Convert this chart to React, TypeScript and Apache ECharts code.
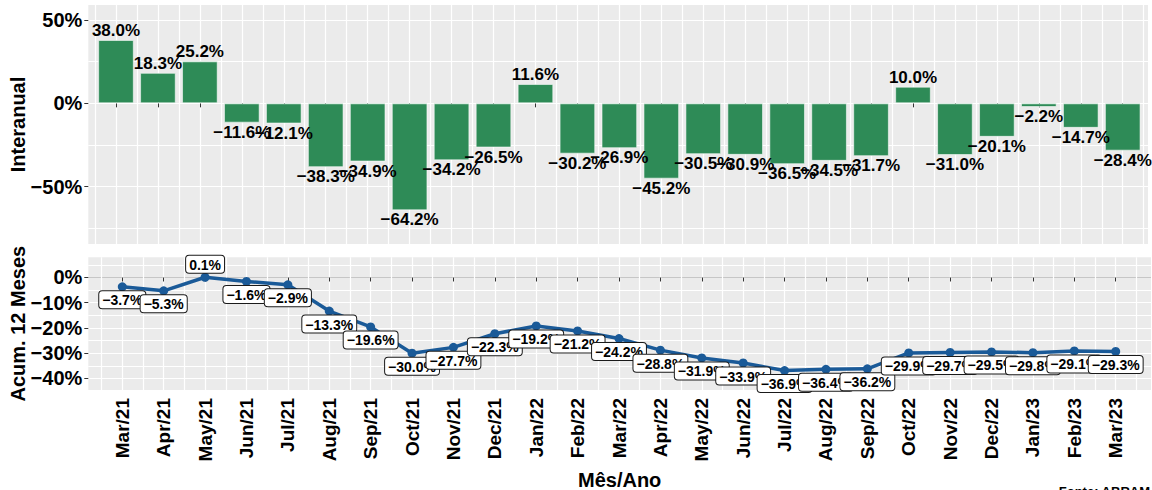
import React, { useEffect, useRef } from 'react';
import * as echarts from 'echarts';

const months = ['Mar/21', 'Apr/21', 'May/21', 'Jun/21', 'Jul/21', 'Aug/21', 'Sep/21', 'Oct/21', 'Nov/21', 'Dec/21', 'Jan/22', 'Feb/22', 'Mar/22', 'Apr/22', 'May/22', 'Jun/22', 'Jul/22', 'Aug/22', 'Sep/22', 'Oct/22', 'Nov/22', 'Dec/22', 'Jan/23', 'Feb/23', 'Mar/23'];
const interanual = [38.0, 18.3, 25.2, -11.6, -12.1, -38.3, -34.9, -64.2, -34.2, -26.5, 11.6, -30.2, -26.9, -45.2, -30.5, -30.9, -36.5, -34.5, -31.7, 10.0, -31.0, -20.1, -2.2, -14.7, -28.4];
const acumulado = [-3.7, -5.3, 0.1, -1.6, -2.9, -13.3, -19.6, -30.0, -27.7, -22.3, -19.2, -21.2, -24.2, -28.8, -31.9, -33.9, -36.9, -36.4, -36.2, -29.9, -29.7, -29.5, -29.8, -29.1, -29.3];
const topTickValues = [-50, 0, 50];
const bottomTickValues = [-40, -30, -20, -10, 0];

const FONT = '"Liberation Sans", Arial, Helvetica, sans-serif';
const PANEL = '#EBEBEB';
const BAR = '#2E8B57';
const LINE = '#1A5A98';

// panel geometry (pixels)
const W = 1152;
const topPanel = { x0: 88.3, x1: 1148, y0: 5, y1: 244, band0: 95, band1: 1143.7, vmin: -84.4, vmax: 59 };
const botPanel = { x0: 88.3, x1: 1151, y0: 257.3, y1: 390, band0: 101.6, band1: 1136.4, vmin: -44.6, vmax: 8 };

const yPix = (p: any, v: number) => p.y0 + ((p.vmax - v) / (p.vmax - p.vmin)) * (p.y1 - p.y0);

const pct = (v: number, d = 1) => (v < 0 ? '\u2212' : '') + Math.abs(v).toFixed(d) + '%';

export default function App() {
  const ref = useRef<HTMLDivElement>(null);
  useEffect(() => {
    if (!ref.current) return;
    const chart = echarts.init(ref.current, undefined, { renderer: 'svg' });
    const n = months.length;

    const gA = { left: topPanel.band0, right: W - topPanel.band1, top: topPanel.y0, height: topPanel.y1 - topPanel.y0 };
    const gA2 = { left: topPanel.x0, right: W - topPanel.x1, top: yPix(topPanel, 50), height: yPix(topPanel, -75) - yPix(topPanel, 50) };
    const gA3 = { left: topPanel.x0, right: W - topPanel.x1, top: yPix(topPanel, 50), height: yPix(topPanel, -50) - yPix(topPanel, 50) };
    const gB = { left: botPanel.band0, right: W - botPanel.band1, top: botPanel.y0, height: botPanel.y1 - botPanel.y0 };
    const gB2 = { left: botPanel.x0, right: W - botPanel.x1, top: yPix(botPanel, 5), height: yPix(botPanel, -40) - yPix(botPanel, 5) };
    const gB3 = { left: botPanel.x0, right: W - botPanel.x1, top: yPix(botPanel, 0), height: yPix(botPanel, -40) - yPix(botPanel, 0) };

    const hiddenX = (gridIndex: number) => ({ type: 'value', gridIndex, show: false, min: 0, max: 1 });
    const vLines = (gridIndex: number) => ({
      type: 'value', gridIndex, position: 'top', min: -0.5, max: n - 0.5, interval: 0.5,
      axisLine: { show: false }, axisTick: { show: false }, axisLabel: { show: false },
      splitLine: { show: true, lineStyle: { color: '#FFFFFF', width: 1.2 } },
    });
    const tickStyle = { show: true, length: 4, lineStyle: { color: '#333333', width: 1 } };
    const yLabelStyle = { fontSize: 20, fontWeight: 'bold', color: '#000', fontFamily: FONT, margin: 6, formatter: (v: number) => pct(v, 0) };

    const option: any = {
      animation: false,
      backgroundColor: '#FFFFFF',
      grid: [
        { ...gA }, { ...gA2 }, { ...gA3 },
        { ...gB }, { ...gB2 }, { ...gB3 },
      ],
      xAxis: [
        {
          type: 'category', gridIndex: 0, data: months,
          axisLine: { show: false }, axisLabel: { show: false },
          axisTick: { ...tickStyle, alignWithLabel: true, interval: 0 },
          splitLine: { show: false },
        },
        vLines(0),
        {
          type: 'category', gridIndex: 3, data: months,
          axisLine: { show: false },
          axisTick: { ...tickStyle, alignWithLabel: true, interval: 0 },
          axisLabel: { interval: 0, rotate: 90, margin: 8, fontSize: 19, fontWeight: 'bold', color: '#000', fontFamily: FONT },
          splitLine: { show: false },
        },
        vLines(3),
        hiddenX(1), hiddenX(2), hiddenX(4), hiddenX(5),
      ],
      yAxis: [
        { type: 'value', gridIndex: 0, min: topPanel.vmin, max: topPanel.vmax, show: false },
        { type: 'value', gridIndex: 3, min: botPanel.vmin, max: botPanel.vmax, show: false },
        {
          type: 'value', gridIndex: 1, min: -75, max: 50, interval: 25,
          axisLine: { show: false }, axisTick: { show: false }, axisLabel: { show: false },
          splitLine: { show: true, lineStyle: { color: '#FFFFFF', width: 1.2 } },
        },
        {
          type: 'value', gridIndex: 2, min: topTickValues[0], max: topTickValues[topTickValues.length - 1], interval: 50,
          axisLine: { show: false }, axisTick: tickStyle, axisLabel: yLabelStyle, splitLine: { show: false },
        },
        {
          type: 'value', gridIndex: 4, min: -40, max: 5, interval: 5,
          axisLine: { show: false }, axisTick: { show: false }, axisLabel: { show: false },
          splitLine: {
            show: true,
            lineStyle: { color: ['#FFFFFF', '#FFFFFF', '#FFFFFF', '#FFFFFF', '#FFFFFF', '#FFFFFF', '#FFFFFF', '#FFFFFF', '#C6C6C6', '#FFFFFF'], width: 1.2 },
          },
        },
        {
          type: 'value', gridIndex: 5, min: bottomTickValues[0], max: bottomTickValues[bottomTickValues.length - 1], interval: 10,
          axisLine: { show: false }, axisTick: tickStyle, axisLabel: yLabelStyle, splitLine: { show: false },
        },
      ],
      graphic: [
        { type: 'rect', z: -100, silent: true, shape: { x: topPanel.x0, y: topPanel.y0, width: topPanel.x1 - topPanel.x0, height: topPanel.y1 - topPanel.y0 }, style: { fill: PANEL } },
        { type: 'rect', z: -100, silent: true, shape: { x: botPanel.x0, y: botPanel.y0, width: botPanel.x1 - botPanel.x0, height: botPanel.y1 - botPanel.y0 }, style: { fill: PANEL } },
        { type: 'text', x: 17.5, y: (topPanel.y0 + topPanel.y1) / 2, rotation: Math.PI / 2, style: { text: 'Interanual', align: 'center', verticalAlign: 'middle', fontSize: 20, fontWeight: 'bold', fontFamily: FONT, fill: '#000' } },
        { type: 'text', x: 17.5, y: (botPanel.y0 + botPanel.y1) / 2, rotation: Math.PI / 2, style: { text: 'Acum. 12 Meses', align: 'center', verticalAlign: 'middle', fontSize: 20, fontWeight: 'bold', fontFamily: FONT, fill: '#000' } },
        { type: 'text', x: (botPanel.x0 + botPanel.x1) / 2, y: 480, style: { text: 'Mês/Ano', align: 'center', verticalAlign: 'middle', fontSize: 20, fontWeight: 'bold', fontFamily: FONT, fill: '#000' } },
        { type: 'text', x: 1150, y: 485, style: { text: 'Fonte: ABRAM', align: 'right', verticalAlign: 'top', fontSize: 13, fontWeight: 'bold', fontFamily: FONT, fill: '#000' } },
      ],
      series: [
        {
          type: 'bar', xAxisIndex: 0, yAxisIndex: 0, barWidth: '85%', z: 2,
          itemStyle: { color: BAR, borderColor: 'rgba(255,255,255,0.55)', borderWidth: 1 },
          data: interanual.map((v) => ({ value: v, label: { position: v >= 0 ? 'top' : 'bottom' } })),
          label: {
            show: true, distance: 1, fontSize: 17, fontWeight: 'bold', color: '#000', fontFamily: FONT,
            formatter: (p: any) => pct(p.value),
          },
          emphasis: { disabled: true },
        },
        {
          type: 'line', xAxisIndex: 2, yAxisIndex: 1, z: 3,
          symbol: 'circle', symbolSize: 9,
          lineStyle: { color: LINE, width: 3.5 },
          itemStyle: { color: LINE },
          data: acumulado.map((v) => ({ value: v, label: { position: v > 0 ? 'top' : 'bottom' } })),
          label: {
            show: true, distance: 0, fontSize: 14, fontWeight: 'bold', color: '#000', fontFamily: FONT,
            backgroundColor: '#FFFFFF', borderColor: '#1A1A1A', borderWidth: 1, borderRadius: 3, padding: [2, 3, 1, 3],
            formatter: (p: any) => pct(p.value),
          },
          emphasis: { disabled: true },
        },
      ],
    };
    chart.setOption(option);
    return () => chart.dispose();
  }, []);
  return <div ref={ref} style={{ position: 'fixed', left: 0, top: 0, width: 1152, height: 490 }} />;
}
